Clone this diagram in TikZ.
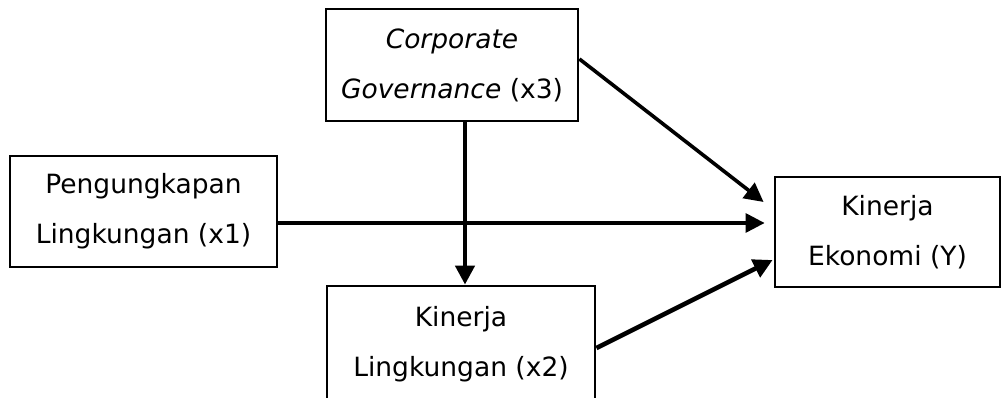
\documentclass[tikz,border=0pt]{standalone}
\usepackage{fontspec}
\setmainfont{DejaVu Sans}
\usetikzlibrary{arrows.meta}
\begin{document}
\begin{tikzpicture}[x=1pt,y=-1pt,
  box/.style={draw, line width=2.8pt, inner sep=0pt, align=center,
    font=\fontsize{26.5}{50}\selectfont},
  arr/.style={-{Triangle[length=19pt,width=19pt]}},
]
\useasboundingbox (0,0) rectangle (1005,398);
\node[box, minimum width=252pt, minimum height=112pt] (cg) at (452,65)
  {\textit{Corporate}\\\textit{Governance} (x3)};
\node[box, minimum width=267pt, minimum height=111pt] (pg) at (143.5,211.5)
  {Pengungkapan\\Lingkungan (x1)};
\node[box, minimum width=268pt, minimum height=116pt] (lk) at (461,344)
  {Kinerja\\Lingkungan (x2)};
\node[box, minimum width=225pt, minimum height=110pt] (ek) at (887.5,232)
  {Kinerja\\Ekonomi (Y)};
\coordinate (vx) at (465,0);
\coordinate (hy) at (0,223);
\coordinate (d1a) at (0,59);
\coordinate (d1b) at (0,202);
\coordinate (d2a) at (0,348);
\coordinate (d2b) at (0,260);
\draw[arr, line width=4.4pt] (cg.south -| vx) -- (lk.north -| vx);
\draw[arr, line width=3.2pt] (pg.east |- hy) -- ([xshift=-9pt]ek.west |- hy);
\draw[arr, line width=3.6pt] (cg.east |- d1a) -- ([xshift=-10pt]ek.west |- d1b);
\draw[arr, line width=4.6pt] (lk.east |- d2a) -- ([xshift=-1pt]ek.west |- d2b);
\end{tikzpicture}
\end{document}
